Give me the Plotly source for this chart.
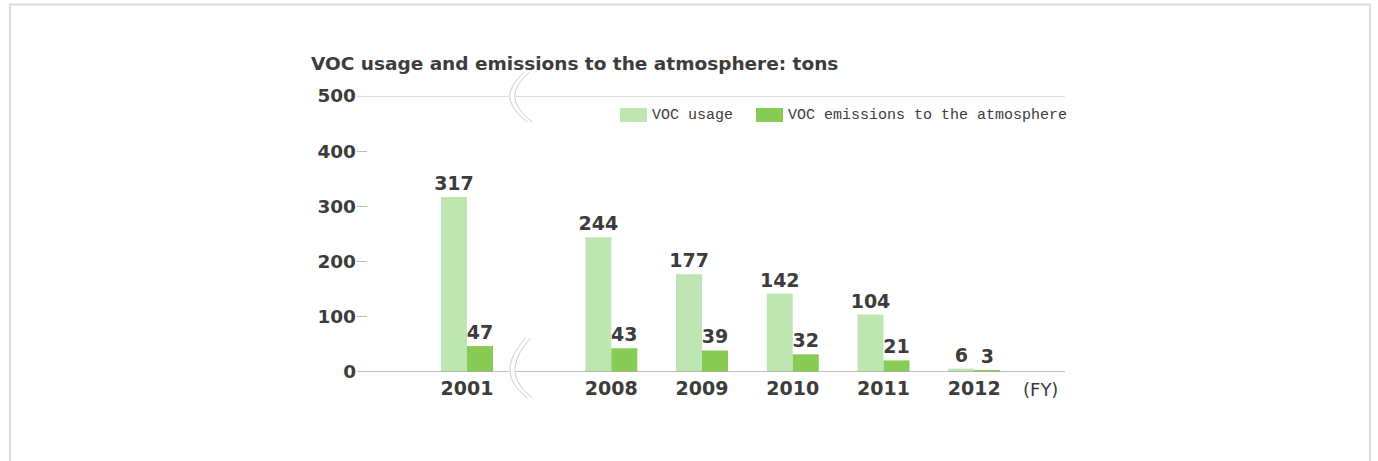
import plotly.graph_objects as go

# ---- data ----
years = ["2001", "2008", "2009", "2010", "2011", "2012"]
voc_usage = [317, 244, 177, 142, 104, 6]
voc_emissions = [47, 43, 39, 32, 21, 3]
y_ticks = [0, 100, 200, 300, 400, 500]
series_names = ["VOC usage", "VOC emissions to the atmosphere"]
title_text = "VOC usage and emissions to the atmosphere: tons"
unit_text = "(FY)"

# ---- layout constants ----
W, H = 1378, 461
ML, MR, MT, MB = 357, 313, 96, 89
PW, PH = W - ML - MR, H - MT - MB
LIGHT = "#bee6b2"
DARK = "#89cc55"
TXT = "#3c3c3c"
BREAK_GAP = 1.59          # axis break between first and second category
xpos = [0.0] + [BREAK_GAP + i for i in range(len(years) - 1)]
BW = 0.2866
XR = [-1.212, 6.59]
BREAK_PX = 522

def px_x(px):
    return (px - ML) / PW

def px_y(py):
    return (H - MB - py) / PH

valfont = dict(family="DejaVu Sans", size=19, color=TXT, weight="bold")

fig = go.Figure()
fig.add_trace(go.Bar(
    x=xpos, y=voc_usage, width=BW, offset=-BW, name=series_names[0],
    marker=dict(color=LIGHT, line=dict(width=0)),
    text=[str(v) for v in voc_usage], textposition="outside", constraintext="none",
    textfont=valfont, cliponaxis=False, showlegend=False))
fig.add_trace(go.Bar(
    x=xpos, y=voc_emissions, width=BW, offset=0, name=series_names[1],
    marker=dict(color=DARK, line=dict(width=0)),
    text=[str(v) for v in voc_emissions], textposition="outside", constraintext="none",
    textfont=valfont, cliponaxis=False, showlegend=False))

shapes = []
# panel border
shapes.append(dict(type="rect", xref="paper", yref="paper",
                   x0=px_x(10), x1=px_x(1370), y0=px_y(500), y1=px_y(4.5),
                   line=dict(color="#dddddd", width=2), fillcolor="rgba(0,0,0,0)",
                   layer="below"))
# top line and baseline
shapes.append(dict(type="line", xref="paper", yref="y", x0=0, x1=1, y0=500, y1=500,
                   line=dict(color="#bbbbbb", width=1)))
shapes.append(dict(type="line", xref="paper", yref="y", x0=0, x1=1, y0=0, y1=0,
                   line=dict(color="#aaaaaa", width=1.5)))

# axis break marks (pixel paths anchored in paper space so they are not clipped)
def brk(anchor_py, pts):
    # pts: screen-pixel offsets (y down positive) for a cubic bezier; plotly pixel y is up-positive
    def path(dx):
        (x0, y0), (x1, y1), (x2, y2), (x3, y3) = pts
        return (f"M {x0+dx},{-y0} C {x1+dx},{-y1} {x2+dx},{-y2} {x3+dx},{-y3}")
    out = [dict(type="path", xref="paper", yref="paper", xsizemode="pixel", ysizemode="pixel",
                xanchor=px_x(BREAK_PX), yanchor=px_y(anchor_py), path=path(0),
                line=dict(color="white", width=7))]
    for dx in (-2.5, 2.5):
        out.append(dict(type="path", xref="paper", yref="paper", xsizemode="pixel",
                        ysizemode="pixel", xanchor=px_x(BREAK_PX), yanchor=px_y(anchor_py),
                        path=path(dx), line=dict(color="#cdcdcd", width=1)))
    return out

shapes += brk(96, [(5, -24), (-15, -6), (-15, 8), (8, 26)])
shapes += brk(372, [(6, -34), (-15, -10), (-15, 8), (8, 26)])

# custom legend swatches
shapes.append(dict(type="rect", xref="paper", yref="paper",
                   x0=px_x(620), x1=px_x(647), y0=px_y(122), y1=px_y(108),
                   fillcolor=LIGHT, line=dict(width=0)))
shapes.append(dict(type="rect", xref="paper", yref="paper",
                   x0=px_x(756), x1=px_x(783), y0=px_y(122), y1=px_y(108),
                   fillcolor=DARK, line=dict(width=0)))

annotations = [
    dict(text=title_text, xref="paper", yref="paper", x=px_x(309), y=px_y(64),
         xanchor="left", yanchor="middle", showarrow=False,
         font=dict(family="DejaVu Sans", size=18.5, color=TXT, weight="bold")),
    dict(text=series_names[0], xref="paper", yref="paper", x=px_x(650), y=px_y(115),
         xanchor="left", yanchor="middle", showarrow=False,
         font=dict(family="Liberation Mono", size=15, color=TXT)),
    dict(text=series_names[1], xref="paper", yref="paper", x=px_x(786), y=px_y(115),
         xanchor="left", yanchor="middle", showarrow=False,
         font=dict(family="Liberation Mono", size=15, color=TXT)),
    dict(text=unit_text, xref="paper", yref="paper", x=px_x(1021), y=px_y(389),
         xanchor="left", yanchor="middle", showarrow=False,
         font=dict(family="DejaVu Sans", size=18, color=TXT)),
]

fig.update_layout(
    width=W, height=H, margin=dict(l=ML, r=MR, t=MT, b=MB),
    paper_bgcolor="white", plot_bgcolor="white",
    barmode="overlay", showlegend=False,
    shapes=shapes, annotations=annotations,
    xaxis=dict(range=XR, tickvals=xpos, ticktext=years, showgrid=False, zeroline=False,
               showline=False, ticks="", fixedrange=True, ticklabelstandoff=3,
               tickfont=dict(family="DejaVu Sans", size=19, color=TXT, weight="bold")),
    yaxis=dict(range=[0, 500], tickvals=y_ticks, ticktext=[str(v) for v in y_ticks],
               showgrid=False, zeroline=False, showline=False, ticks="inside",
               ticklen=10, tickcolor="#bbbbbb", tickwidth=1, fixedrange=True,
               tickfont=dict(family="DejaVu Sans", size=18.5, color=TXT, weight="bold")),
)

fig.write_html("out.html")
